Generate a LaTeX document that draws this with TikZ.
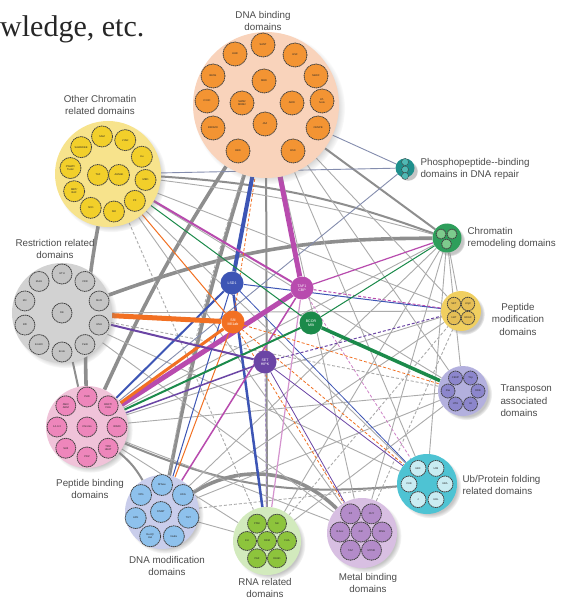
\documentclass[tikz,border=0pt]{standalone}
\usepackage{fontspec}
\setmainfont{Liberation Serif}
\newfontfamily\lblfont{Liberation Sans}
\usetikzlibrary{shadows,backgrounds,calc}

% group fills and domain fills
\definecolor{dnabg}{HTML}{F9D3BB}\definecolor{dnadom}{HTML}{F39433}
\definecolor{ochbg}{HTML}{F7E38C}\definecolor{ochdom}{HTML}{F2CF2A}
\definecolor{rrbg}{HTML}{D2D2D2}\definecolor{rrdom}{HTML}{C4C4C4}
\definecolor{pbbg}{HTML}{F0C3D9}\definecolor{pbdom}{HTML}{EE86BB}
\definecolor{dmbg}{HTML}{C9CDEB}\definecolor{dmdom}{HTML}{8EC1EC}
\definecolor{rnabg}{HTML}{D2EABD}\definecolor{rnadom}{HTML}{8DC43C}
\definecolor{mtbg}{HTML}{D8BFE2}\definecolor{mtdom}{HTML}{B38BC9}
\definecolor{ubbg}{HTML}{4EC3D3}\definecolor{ubdom}{HTML}{C9ECF2}
\definecolor{trbg}{HTML}{B3B0DE}\definecolor{trdom}{HTML}{8C86CC}
\definecolor{pmbg}{HTML}{F0CF60}\definecolor{pmdom}{HTML}{E5BE55}
\definecolor{crbg}{HTML}{2E9E5B}\definecolor{crdom}{HTML}{7DCB8D}
\definecolor{phbg}{HTML}{1E8F8C}\definecolor{phdom}{HTML}{4FB9B4}
% hub and connector colours
\definecolor{hblue}{HTML}{3D55B5}
\definecolor{hmag}{HTML}{B84BAE}
\definecolor{horange}{HTML}{F27022}
\definecolor{hgreen}{HTML}{1B8A4A}
\definecolor{hpurple}{HTML}{6B45A5}
\definecolor{edgegray}{HTML}{8E8E8E}
\definecolor{lightedge}{HTML}{ABABAB}

\begin{document}
\begin{tikzpicture}[x=1pt,y=-1pt,
  cluster/.style={circle, inner sep=0pt, minimum size=#1,
    circular drop shadow={shadow xshift=3pt, shadow yshift=-3pt, shadow scale=1.04, opacity=0.45}},
  dom/.style={circle, inner sep=0pt, minimum size=#1, draw=black!75, line width=0.8pt,
    dash pattern=on 1.4pt off 0.6pt, font=\lblfont\fontsize{2.6}{2.9}\selectfont,
    align=center, text=black!85},
  hub/.style={circle, inner sep=0pt, minimum size=23pt, text=white,
    font=\lblfont\fontsize{3.6}{4}\selectfont, align=center},
  grplabel/.style={font=\lblfont\fontsize{9.8}{12.5}\selectfont, text=black!70, align=center},
  grpleft/.style={grplabel, align=left, anchor=west},
  gA/.style={draw=edgegray, line width=3.6pt},
  gB/.style={draw=edgegray, line width=2pt},
  gC/.style={draw=lightedge, line width=0.9pt},
  gD/.style={draw=lightedge, line width=0.9pt, dash pattern=on 3pt off 2pt},
  cdash/.style={dash pattern=on 3pt off 2pt}
]
\useasboundingbox (0,0) rectangle (565,601);

% slide text above the network
\node[anchor=base west, inner sep=0pt, font=\fontsize{30}{34}\selectfont, text=black!85]
  (slidetext) at (0,37) {wledge, etc.};

% ---------------- groups ----------------
% DNA binding domains
\node[cluster=146pt, fill=dnabg] (dna) at (266,105) {};
\foreach \p/\t [count=\i] in {
  {(235,54)}/HHR, {(263,45)}/SANT, {(295,55)}/HSF, {(213,76)}/BESS,
  {(264,81)}/MBD, {(316,76)}/MADF, {(207,101)}/CXXC, {(242,103)}/{SWIB/\\MDM2},
  {(292,103)}/ARID, {(322,101)}/{AT-\\hook}, {(265,124)}/JAZ, {(213,128)}/BROMO,
  {(318,128)}/CENPB, {(238,151)}/BBD, {(293,151)}/BSD}
  \node[dom=24pt, fill=dnadom] (dnad\i) at \p {\t};
\node[grplabel] (dnalbl) at (263,21) {DNA binding\\domains};

% Other chromatin related domains
\node[cluster=106pt, fill=ochbg] (och) at (108,174) {};
\foreach \a/\t [count=\i] in {99/SAM, 63/LYAR, 27/Ku, -9/MBD, -45/PZ, -81/SRI,
  -117/SCD, -153/{MBT/\\BAF}, 171/{PWWP/\\Tudor}, 135/SAWADEE}
  \node[dom=21pt, fill=ochdom] (ochd\i) at ($(och)+(\a:38pt)$) {\t};
\node[dom=21pt, fill=ochdom] (ochc1) at (98,175) {TAF};
\node[dom=21pt, fill=ochdom] (ochc2) at (119,175) {AHNAK};
\node[grplabel] (ochlbl) at (100,105) {Other Chromatin\\related domains};

% Restriction related domains
\node[cluster=100pt, fill=rrbg] (rr) at (62,313) {};
\foreach \a/\t [count=\i] in {90/HTH, 54/VRR, 18/McrB, -18/{HNH}, -54/ParB,
  -90/Endo, -126/EcoRII, -162/BfiI, 162/Mrr, 126/MutH}
  \node[dom=20pt, fill=rrdom] (rrd\i) at ($(rr)+(\a:39pt)$) {\t};
\node[dom=20pt, fill=rrdom] (rrc) at (62,313) {RE};
\node[grplabel] (rrlbl) at (55,249) {Restriction related\\domains};

% Peptide binding domains
\node[cluster=82pt, fill=pbbg] (pb) at (87,427) {};
\foreach \a/\t [count=\i] in {90/PHD, 45/{BRCT/\\FHA}, 0/WD40, -45/{TPR/\\HEAT}, -90/PDZ,
  -135/SH3, 180/14-3-3, 135/{ANK/\\ARM}}
  \node[dom=20pt, fill=pbdom] (pbd\i) at ($(pb)+(\a:30pt)$) {\t};
\node[dom=20pt, fill=pbdom] (pbc) at (87,427) {Chromo};
\node[grplabel] (pblbl) at (90,489) {Peptide binding\\domains};

% DNA modification domains
\node[cluster=74pt, fill=dmbg] (dm) at (162,512) {};
\foreach \a/\t [count=\i] in {90/MTase, 39/UDG, -12/TET, -64/{Nudix}, -116/{RecQ/\\Hel}, -167/APE, 141/XPG}
  \node[dom=21pt, fill=dmdom] (dmd\i) at ($(dm)+(\a:27pt)$) {\t};
\node[dom=21pt, fill=dmdom] (dmc) at (161,512) {DNMT};
\node[grplabel] (dmlbl) at (167,566) {DNA modification\\domains};

% RNA related domains
\node[cluster=68pt, fill=rnabg] (rna) at (267,541) {};
\node[dom=19pt, fill=rnadom] (rnac) at (267,541) {RRM};
\foreach \a/\t [count=\i] in {0/{FHA}, 60/Sm, 120/{PIWI}, 180/KH, 240/PAZ, 300/{DEAD}}
  \node[dom=19pt, fill=rnadom] (rnad\i) at ($(rna)+(\a:20pt)$) {\t};
\node[grplabel] (rnalbl) at (265,588) {RNA related\\domains};

% Metal binding domains
\node[cluster=70pt, fill=mtbg] (mt) at (362,533) {};
\node[dom=20pt, fill=mtdom] (mtc) at (361,532) {ZnF};
\foreach \a/\t [count=\i] in {0/{RING}, 60/{CHY}, 120/{ZZ}, 180/{B-box}, 240/{TAZ}, 300/{MYND}}
  \node[dom=20pt, fill=mtdom] (mtd\i) at ($(mtc)+(\a:21pt)$) {\t};
\node[grplabel] (mtlbl) at (368,583) {Metal binding\\domains};

% Ub/Protein folding related domains
\node[cluster=60pt, fill=ubbg] (ub) at (427,484) {};
\foreach \a/\t [count=\i] in {0/{UBA}, 60/{UIM}, 120/{UBX}, 180/{CUE}, 240/{J}, 300/{UBL}}
  \node[dom=16pt, fill=ubdom] (ubd\i) at ($(ub)+(\a:18pt)$) {\t};
\node[grpleft] (ublbl) at (459,485) {Ub/Protein folding\\related domains};

% Transposon associated domains
\node[cluster=50pt, fill=trbg] (tr) at (463,391) {};
\foreach \a/\t [count=\i] in {0/{DDE}, 60/{Tnp}, 120/{CENP}, 180/{Pax}, 240/{HTH}, 300/{Int}}
  \node[dom=14pt, fill=trdom] (trd\i) at ($(tr)+(\a:15pt)$) {\t};
\node[grpleft] (trlbl) at (497,401) {Transposon\\associated\\domains};

% Peptide modification domains
\node[cluster=40pt, fill=pmbg] (pm) at (461,311) {};
\foreach \dx/\dy/\t [count=\i] in {-7/-7/SET, 7/-7/JmjC, -7/7/HAT, 7/7/HDAC}
  \node[dom=13.5pt, fill=pmdom] (pmd\i) at ($(pm)+(\dx,\dy)$) {\t};
\node[grplabel] (pmlbl) at (518,319) {Peptide\\modification\\domains};

% Chromatin remodeling domains
\node[cluster=29pt, fill=crbg] (cr) at (447,238) {};
\node[dom=10pt, fill=crdom] (crd1) at (441,234) {};
\node[dom=10pt, fill=crdom] (crd2) at (452,234) {};
\node[dom=10pt, fill=crdom] (crd3) at (446.5,244) {};
\node[grpleft] (crlbl) at (464,238) {Chromatin\\remodeling domains};

% Phosphopeptide-binding domains in DNA repair
\node[cluster=19pt, fill=phbg] (ph) at (405,168) {};
\node[dom=7pt, fill=phdom, line width=0.5pt] (phd1) at (405,162) {};
\node[dom=7pt, fill=phdom, line width=0.5pt] (phd2) at (405,169.5) {};
\node[dom=7pt, fill=phdom, line width=0.5pt] (phd3) at (405,176) {};
\node[grpleft] (phlbl) at (417,169) {Phosphopeptide--binding\\domains in DNA repair};

% ---------------- hub proteins ----------------
\node[hub, fill=hblue] (hb) at (232,283) {LSD1};
\node[hub, fill=hmag] (hm) at (302,288) {TAF1\\CBP};
\node[hub, fill=horange] (ho) at (233,322) {SfiI\\Mll1ab};
\node[hub, fill=hgreen] (hg) at (311,323) {BCOR\\Mllt};
\node[hub, fill=hpurple] (hp) at (265,362) {SET\\HIPK};

% ---------------- connectors ----------------
\begin{scope}[on background layer]
\fill[white] (0,0) rectangle (565,601);

% heavy grey links
\draw[gA] (och) to[bend right=6] (pb);
\draw[gA] (dna) to[bend right=4] (pb);
\draw[gA] (dna) to[bend right=3] (dm);
\draw[gA] (rr) to[bend left=10] (cr);
\draw[gA] (dm) to[bend left=38] (mt);
\draw[gB] (och) to[bend left=8] (cr);
\draw[gB] (dna) to (rna);
\draw[gB] (pb) to[bend right=14] (ub);
\draw[gB] (pb) to[bend left=10] (dm);
\draw[gB] (dna) to (cr);
\draw[gB] (rr) to (pb);

% light grey links
\draw[gC] (dna) to (pm);
\draw[gC] (dna) to (tr);
\draw[gC] (dna) to (ub);
\draw[gC] (dna) to (mt);
\draw[gC] (och) to (pm);
\draw[gC] (och) to (tr);
\draw[gC] (och) to (ub);
\draw[gC] (och) to[bend left=4] (cr);
\draw[gC] (rr) to (pm);
\draw[gC] (rr) to (ub);
\draw[gC] (rr) to (mt);
\draw[gC] (pb) to (cr);
\draw[gC] (pb) to (pm);
\draw[gC] (pb) to (tr);
\draw[gC] (pb) to (rna);
\draw[gC] (pb) to (mt);
\draw[gC] (dm) to (cr);
\draw[gC] (dm) to (pm);
\draw[gC] (dm) to (tr);
\draw[gC] (rna) to (cr);
\draw[gC] (rna) to (tr);
\draw[gC] (mt) to (cr);
\draw[gC] (ub) to (cr);
\draw[gC] (tr) to (cr);
\draw[gC] (pm) to (cr);
\draw[gC] (dm) to (rna);
\draw[gC] (och) to (mt);
\draw[gD] (rr) to (tr);
\draw[gD] (dm) to (ub);
\draw[gD] (rna) to (pm);
\draw[gD] (mt) to (pm);
\draw[gD] (dna) to[bend right=4] (dm);
\draw[gD] (och) to (rna);
\draw[draw=hblue!35!lightedge, line width=0.9pt] (dna) to (ph);
\draw[draw=hblue!35!lightedge, line width=0.9pt] (och) to (ph);
\draw[draw=hblue!35!lightedge, line width=0.9pt] (pb) to (ph);

% blue hub
\draw[hblue, line width=4pt] (hb) to (dna);
\draw[hblue, line width=2.5pt] (hb) to (rna);
\draw[hblue, line width=2pt] (hb) to (pb);
\draw[hblue, line width=1pt] (hb) to (dm);
\draw[hblue, line width=1pt] (hb) to (pm);
\draw[hblue, line width=0.8pt] (hb) to (ub);

% magenta hub
\draw[hmag, line width=5pt] (hm) to (dna);
\draw[hmag, line width=5pt] (hm) to (pb);
\draw[hmag, line width=2pt] (hm) to (och);
\draw[hmag, line width=1.2pt] (hm) to (cr);
\draw[hmag, line width=1pt, cdash] (hm) to (pm);
\draw[hmag!60, line width=1.2pt] (hm) to (rna);
\draw[hmag, line width=1.5pt] (hm) to (dm);
\draw[hmag!70, line width=0.8pt, cdash] (hm) to (ub);

% orange hub
\draw[horange, line width=5pt] (ho) to (rr);
\draw[horange, line width=3pt] (ho) to (pb);
\draw[horange, line width=1pt] (ho) to (dm);
\draw[horange, line width=1pt] (ho) to (och);
\draw[horange, line width=0.8pt, cdash] (ho) to (ub);
\draw[horange, line width=0.8pt, cdash] (ho) to (tr);
\draw[horange, line width=0.8pt, cdash] (ho) to (dna);
\draw[horange, line width=0.8pt, cdash] (ho) to (mt);

% green hub
\draw[hgreen, line width=3.5pt] (hg) to (tr);
\draw[hgreen, line width=2pt] (hg) to (pb);
\draw[hgreen, line width=1pt] (hg) to (cr);
\draw[hgreen, line width=1pt] (hg) to (och);

% purple hub
\draw[hpurple, line width=2pt] (hp) to (rr);
\draw[hpurple, line width=1.5pt] (hp) to (pb);
\draw[hpurple, line width=1pt, cdash] (hp) to (pm);
\draw[hpurple, line width=0.8pt] (hp) to (ub);
\draw[hpurple, line width=0.8pt] (hp) to (mt);
\draw[hpurple!60, line width=1pt, cdash] (hp) to (rna);
\end{scope}
\end{tikzpicture}
\end{document}
